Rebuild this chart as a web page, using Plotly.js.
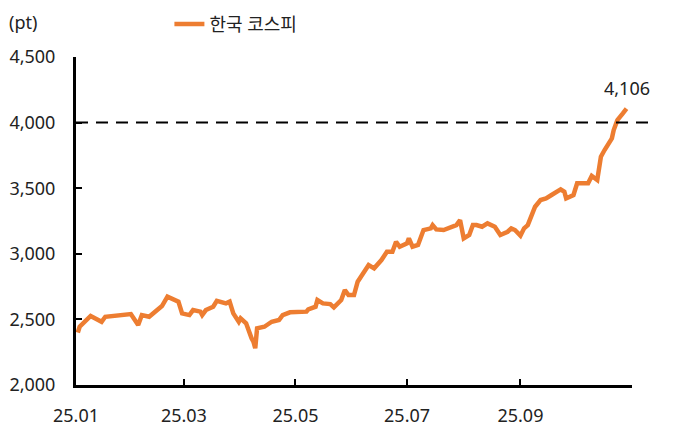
<!DOCTYPE html>
<html>
<head>
<meta charset="utf-8">
<script src="https://cdn.plot.ly/plotly-3.0.1.min.js"></script>
<style>
  html, body { margin: 0; padding: 0; background: #fff; }
  #chart { width: 679px; height: 444px; }
</style>
</head>
<body>
<div id="chart"></div>
<script>
// KOSPI daily closes
var dates = [
  '2025-01-02','2025-01-03','2025-01-09','2025-01-15','2025-01-17','2025-01-21','2025-01-24','2025-01-31',
  '2025-02-04','2025-02-06','2025-02-10','2025-02-13','2025-02-17','2025-02-20','2025-02-26','2025-02-28',
  '2025-03-04','2025-03-06','2025-03-10','2025-03-11','2025-03-13','2025-03-17','2025-03-19','2025-03-24',
  '2025-03-26','2025-03-28','2025-03-31','2025-04-01','2025-04-04','2025-04-07','2025-04-08','2025-04-09',
  '2025-04-10','2025-04-14','2025-04-18','2025-04-22','2025-04-24','2025-04-28','2025-05-07','2025-05-08',
  '2025-05-12','2025-05-13','2025-05-16','2025-05-20','2025-05-22','2025-05-26','2025-05-28','2025-05-30',
  '2025-06-02','2025-06-04','2025-06-06','2025-06-10','2025-06-13','2025-06-17','2025-06-20','2025-06-23',
  '2025-06-25','2025-06-27','2025-07-01','2025-07-02','2025-07-04','2025-07-07','2025-07-10','2025-07-14',
  '2025-07-15','2025-07-17','2025-07-21','2025-07-23','2025-07-28','2025-07-30','2025-08-01','2025-08-04',
  '2025-08-06','2025-08-08','2025-08-11','2025-08-14','2025-08-18','2025-08-21','2025-08-25','2025-08-27',
  '2025-08-29','2025-09-01','2025-09-03','2025-09-05','2025-09-09','2025-09-12','2025-09-15','2025-09-18',
  '2025-09-22','2025-09-23','2025-09-25','2025-09-26','2025-09-30','2025-10-02','2025-10-08','2025-10-10',
  '2025-10-13','2025-10-15','2025-10-17','2025-10-20','2025-10-21','2025-10-22','2025-10-23','2025-10-24',
  '2025-10-27','2025-10-29'
];
var kospi = [
  2400, 2444, 2526, 2482, 2520, 2526, 2539, 2541,
  2457, 2533, 2520, 2559, 2602, 2673, 2635, 2546,
  2533, 2571, 2559, 2533, 2571, 2597, 2642, 2622,
  2635, 2546, 2482, 2508, 2470, 2356, 2330, 2280,
  2432, 2444, 2482, 2495, 2533, 2554, 2559, 2577,
  2597, 2648, 2622, 2617, 2592, 2648, 2724, 2686,
  2686, 2787, 2825, 2914, 2889, 2952, 3016, 3016,
  3092, 3054, 3080, 3118, 3054, 3067, 3181, 3194,
  3219, 3186, 3181, 3194, 3219, 3257, 3118, 3143,
  3219, 3219, 3206, 3232, 3206, 3143, 3168, 3194,
  3181, 3138, 3194, 3219, 3359, 3410, 3422, 3448,
  3486, 3491, 3473, 3422, 3448, 3537, 3537, 3593,
  3562, 3740, 3791, 3854, 3880, 3943, 3994, 4019,
  4070, 4106
];
var seriesName = '한국 코스피';
var refLevel = 4000;
var yTicks = [2000, 2500, 3000, 3500, 4000, 4500];
var xTicks = ['2025-01-01','2025-03-01','2025-05-01','2025-07-01','2025-09-01'];

var font = 'Noto Sans, Noto Sans CJK KR, sans-serif';

var trace = {
  x: dates,
  y: kospi,
  name: seriesName,
  type: 'scatter',
  mode: 'lines',
  line: {color: '#ED7D31', width: 4.5},
  hoverinfo: 'skip'
};

var lastIdx = kospi.length - 1;

var layout = {
  width: 679,
  height: 444,
  margin: {l: 76, r: 47, t: 57, b: 59, autoexpand: false},
  paper_bgcolor: '#fff',
  plot_bgcolor: '#fff',
  font: {family: font, size: 18, color: '#222'},
  showlegend: true,
  legend: {
    orientation: 'h',
    x: 0.168, xanchor: 'left',
    y: 1.1, yanchor: 'middle',
    font: {size: 18, color: '#222'},
    bgcolor: 'rgba(0,0,0,0)'
  },
  xaxis: {
    type: 'date',
    range: ['2025-01-01', '2025-11-01'],
    tickvals: xTicks,
    tickformat: '%y.%m',
    ticks: 'inside',
    ticklen: 6,
    tickwidth: 2,
    tickcolor: '#000',
    showline: true,
    linecolor: '#000',
    linewidth: 3,
    showgrid: false,
    zeroline: false,
    ticklabelstandoff: 12
  },
  yaxis: {
    range: [2000, 4500],
    tickvals: yTicks,
    tickformat: ',',
    ticks: 'inside',
    ticklen: 6,
    tickwidth: 2,
    tickcolor: '#000',
    showline: true,
    linecolor: '#000',
    linewidth: 3,
    showgrid: false,
    zeroline: false,
    ticklabelstandoff: 14
  },
  shapes: [{
    type: 'line',
    xref: 'paper', x0: 0, x1: 1.035,
    yref: 'y', y0: refLevel, y1: refLevel,
    line: {color: '#000', width: 2, dash: '12px,8px'}
  }],
  annotations: [
    {
      xref: 'paper', yref: 'paper',
      x: -0.125, y: 1.107, xanchor: 'left', yanchor: 'middle',
      text: '(pt)', showarrow: false,
      font: {size: 18, color: '#222'}
    },
    {
      x: dates[lastIdx], y: kospi[lastIdx],
      text: kospi[lastIdx].toLocaleString('en-US'),
      showarrow: false, yshift: 21, xanchor: 'center',
      font: {size: 18, color: '#222'}
    }
  ]
};

Plotly.newPlot('chart', [trace], layout, {displayModeBar: false, staticPlot: true});
</script>
</body>
</html>
